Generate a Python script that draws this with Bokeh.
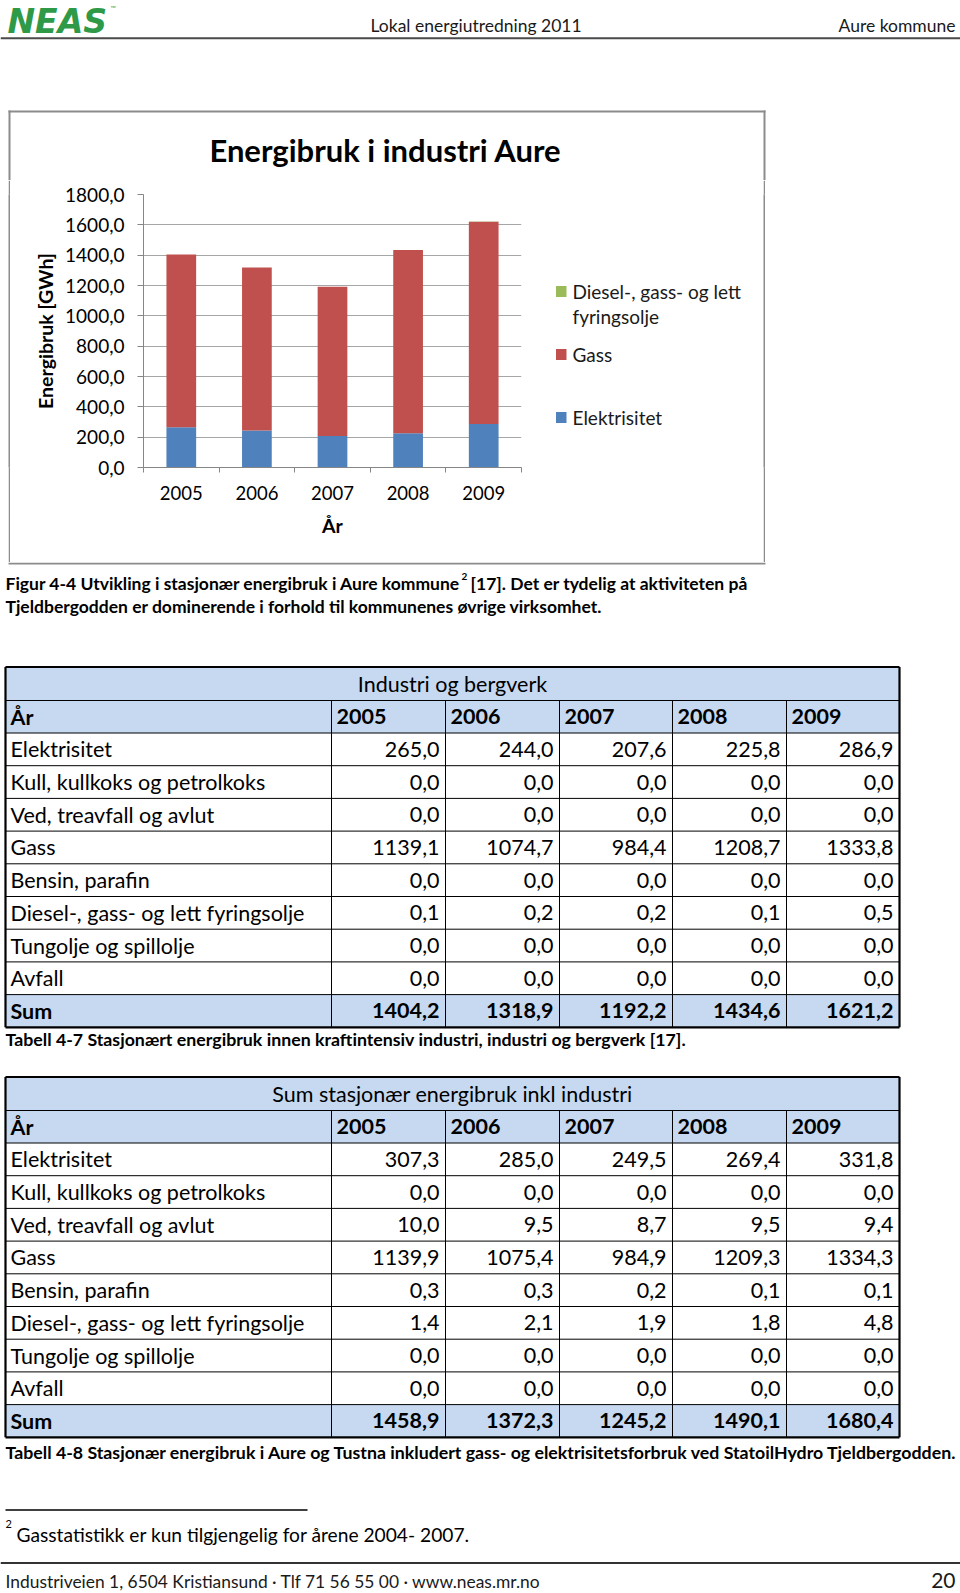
from bokeh.plotting import figure
from bokeh.models import Range1d, FixedTicker, ColumnDataSource, Spacer
from bokeh.layouts import column, row
from bokeh.embed import file_html
from bokeh.resources import INLINE
from bokeh.core.properties import value

FONT = "Lato"

# ---------------- data ----------------
years = ["2005", "2006", "2007", "2008", "2009"]
chart_title = "Energibruk i industri Aure"
y_ticks = [0, 200, 400, 600, 800, 1000, 1200, 1400, 1600, 1800]
elektrisitet = [265.0, 244.0, 207.6, 225.8, 286.9]
gass = [1139.1, 1074.7, 984.4, 1208.7, 1333.8]
diesel = [0.1, 0.2, 0.2, 0.1, 0.5]
series_names = ["Elektrisitet", "Gass", "Diesel-, gass- og lett fyringsolje"]
series_colors = ["#4F81BD", "#C0504D", "#9BBB59"]

row_labels = ["Elektrisitet", "Kull, kullkoks og petrolkoks", "Ved, treavfall og avlut", "Gass",
              "Bensin, parafin", "Diesel-, gass- og lett fyringsolje", "Tungolje og spillolje", "Avfall"]

t1_title = "Industri og bergverk"
t1_values = [
    [265.0, 244.0, 207.6, 225.8, 286.9],
    [0.0, 0.0, 0.0, 0.0, 0.0],
    [0.0, 0.0, 0.0, 0.0, 0.0],
    [1139.1, 1074.7, 984.4, 1208.7, 1333.8],
    [0.0, 0.0, 0.0, 0.0, 0.0],
    [0.1, 0.2, 0.2, 0.1, 0.5],
    [0.0, 0.0, 0.0, 0.0, 0.0],
    [0.0, 0.0, 0.0, 0.0, 0.0],
]
t1_sum = [1404.2, 1318.9, 1192.2, 1434.6, 1621.2]

t2_title = "Sum stasjonær energibruk inkl industri"
t2_values = [
    [307.3, 285.0, 249.5, 269.4, 331.8],
    [0.0, 0.0, 0.0, 0.0, 0.0],
    [10.0, 9.5, 8.7, 9.5, 9.4],
    [1139.9, 1075.4, 984.9, 1209.3, 1334.3],
    [0.3, 0.3, 0.2, 0.1, 0.1],
    [1.4, 2.1, 1.9, 1.8, 4.8],
    [0.0, 0.0, 0.0, 0.0, 0.0],
    [0.0, 0.0, 0.0, 0.0, 0.0],
]
t2_sum = [1458.9, 1372.3, 1245.2, 1490.1, 1680.4]

header_left = "Lokal energiutredning 2011"
header_right = "Aure kommune"
caption1a = "Figur 4-4 Utvikling i stasjonær energibruk i Aure kommune"
caption1b = "[17]. Det er tydelig at aktiviteten på"
caption1c = "Tjeldbergodden er dominerende i forhold til kommunenes øvrige virksomhet."
caption2 = "Tabell 4-7 Stasjonært energibruk innen kraftintensiv industri, industri og bergverk [17]."
caption3 = "Tabell 4-8 Stasjonær energibruk i Aure og Tustna inkludert gass- og elektrisitetsforbruk ved StatoilHydro Tjeldbergodden."
footnote = "Gasstatistikk er kun tilgjengelig for årene 2004- 2007."
footer = "Industriveien 1, 6504 Kristiansund · Tlf 71 56 55 00 · www.neas.mr.no"
page_no = "20"

BOX = "#8c8c8c"


def fmt(v):
    return f"{v:.1f}".replace(".", ",")


def page_fig(x0, x1, y0, y1, **kw):
    f = figure(width=x1 - x0, height=y1 - y0, x_range=Range1d(x0, x1), y_range=Range1d(y1, y0),
               output_backend="svg", toolbar_location=None, min_border=0,
               x_axis_location=None, y_axis_location=None, **kw)
    f.grid.visible = False
    f.outline_line_color = None
    return f


ROW_TOP, ROW_BOT = 180, 562        # window rows of the chart strip
FRAME_TOP, FRAME_BOT = 194, 467    # plot frame of the chart

# ---------------- header + chart top ----------------
top = page_fig(0, 960, 0, ROW_TOP)
top.text(x=[7], y=[1], text=["NEAS"], text_font=value("DejaVu Sans"), text_font_size="33px",
         text_font_style="bold italic", text_color="#2e9a48", text_baseline="top")
top.text(x=[110], y=[7], text=["™"], text_font=value(FONT), text_font_size="7px",
         text_color="#2e9a48", text_baseline="middle")
top.text(x=[370], y=[25], text=[header_left], text_font=value(FONT), text_font_size="17.5px",
         text_color="#1a1a1a", text_baseline="middle")
top.text(x=[955], y=[25], text=[header_right], text_font=value(FONT), text_font_size="17.5px",
         text_color="#1a1a1a", text_baseline="middle", text_align="right")
top.segment(x0=[0], y0=[37.8], x1=[960], y1=[37.8], line_color="#4a4a4a", line_width=2)
top.segment(x0=[8, 9, 764], y0=[111, 110, 110], x1=[765, 9, 764], y1=[111, ROW_TOP + 1, ROW_TOP + 1],
            line_color=BOX, line_width=2)
top.text(x=[385], y=[149], text=[chart_title], text_font=value(FONT), text_font_size="31px",
         text_font_style="bold", text_align="center", text_baseline="middle")

# ---------------- chart row ----------------
H = ROW_BOT - ROW_TOP


def gray_bar():
    g = figure(width=2, height=H, output_backend="svg", toolbar_location=None, min_border=0,
               x_axis_location=None, y_axis_location=None,
               border_fill_color=BOX, background_fill_color=BOX)
    g.grid.visible = False
    g.outline_line_color = None
    return g


p = figure(width=520, height=H, x_range=Range1d(0, len(years)), y_range=Range1d(0, 1800),
           output_backend="svg", toolbar_location=None,
           min_border_left=133, min_border_right=9,
           min_border_top=FRAME_TOP - ROW_TOP, min_border_bottom=ROW_BOT - FRAME_BOT)
p.outline_line_color = None

src = ColumnDataSource(dict(x=[i + 0.5 for i in range(len(years))],
                            el=elektrisitet, ga=gass, di=diesel))
rs = p.vbar_stack(["el", "ga", "di"], x="x", width=0.393, source=src,
                  fill_color=series_colors, line_color=None)

p.yaxis.ticker = FixedTicker(ticks=y_ticks)
p.yaxis.major_label_overrides = {t: fmt(t) for t in y_ticks}
p.xaxis.ticker = FixedTicker(ticks=[i + 0.5 for i in range(len(years))],
                             minor_ticks=list(range(len(years) + 1)))
p.xaxis.major_label_overrides = {i + 0.5: y for i, y in enumerate(years)}

for ax in (p.xaxis[0], p.yaxis[0]):
    ax.axis_line_color = "#868686"
    ax.major_tick_line_color = "#868686"
    ax.minor_tick_line_color = "#868686"
    ax.major_label_text_font = FONT
    ax.major_label_text_font_size = "18.5px"
    ax.major_label_text_color = "#000000"
    ax.axis_label_text_font = FONT
    ax.axis_label_text_font_size = "19.5px"
    ax.axis_label_text_font_style = "bold"
    ax.axis_label_text_color = "#000000"

p.yaxis.major_label_text_font_size = "19px"
p.yaxis.major_tick_out = 6
p.yaxis.major_tick_in = 0
p.yaxis.minor_tick_line_color = None
p.yaxis.major_label_standoff = 13
p.yaxis.axis_label = "Energibruk [GWh]"
p.yaxis.axis_label_standoff = 5

p.xaxis.major_tick_line_color = None
p.xaxis.major_tick_out = 0
p.xaxis.major_tick_in = 0
p.xaxis.minor_tick_out = 5
p.xaxis.minor_tick_in = 0
p.xaxis.major_label_standoff = 13
p.xaxis.axis_label = "År"
p.xaxis.axis_label_standoff = 11

p.xgrid.grid_line_color = None
p.ygrid.grid_line_color = "#a6a6a6"

# legend panel (its frame is the same window band as the chart frame)
right = figure(width=233, height=H, x_range=Range1d(530, 763), y_range=Range1d(FRAME_BOT, FRAME_TOP),
               output_backend="svg", toolbar_location=None,
               min_border_left=0, min_border_right=0,
               min_border_top=FRAME_TOP - ROW_TOP, min_border_bottom=ROW_BOT - FRAME_BOT,
               x_axis_location=None, y_axis_location=None)
right.grid.visible = False
right.outline_line_color = None
leg_names = [series_names[2], series_names[1], series_names[0]]
leg_colors = [series_colors[2], series_colors[1], series_colors[0]]
leg_y = [291, 354, 417]
right.quad(left=[555.5] * 3, right=[566] * 3, top=[y - 5.5 for y in leg_y],
           bottom=[y + 5.5 for y in leg_y], fill_color=leg_colors, line_color=None)
right.text(x=[572, 572, 572, 572], y=[leg_y[0], leg_y[0] + 25, leg_y[1], leg_y[2]],
           text=["Diesel-, gass- og lett", "fyringsolje", leg_names[1], leg_names[2]],
           text_font=value(FONT), text_font_size="19px", text_baseline="middle",
           text_color="#1a1a1a")

chart_row = row(Spacer(width=8, height=H), gray_bar(), p, right, gray_bar(),
                Spacer(width=195, height=H))

# ---------------- lower page ----------------
pg = page_fig(0, 960, ROW_BOT, 1593)
pg.segment(x0=[8], y0=[563], x1=[765], y1=[563], line_color=BOX, line_width=2)

CAP = dict(text_font=value(FONT), text_font_size="17.75px", text_font_style="bold",
           text_baseline="middle", text_color="#000000")
CAP1 = dict(CAP, text_font_size="17.5px")
pg.text(x=[5], y=[583], text=[caption1a], **CAP1)
pg.text(x=[461], y=[576], text=["2"], text_font=value(FONT), text_font_size="10px",
        text_font_style="bold", text_baseline="middle")
pg.text(x=[470], y=[583], text=[caption1b], **CAP1)
pg.text(x=[5], y=[605.5], text=[caption1c], **CAP1)

BLUE = "#c6d9f1"
COL_EDGES = [5, 331, 445, 559, 672, 786, 899]
TITLE_H, YEAR_H, ROW_H = 33.5, 32.5, 32.7
TFS = "21.5px"


def draw_table(top_y, title, values, sums):
    L, R = COL_EDGES[0], COL_EDGES[-1]
    y_t = top_y + TITLE_H
    y_y = y_t + YEAR_H
    n = len(row_labels)
    bounds = [y_y + i * ROW_H for i in range(n + 2)]
    bot = bounds[-1]
    pg.quad(left=[L] * 3, right=[R] * 3, top=[top_y, y_t, bounds[n]],
            bottom=[y_t, y_y, bot], fill_color=BLUE, line_color=None)
    hy = [y_t, y_y] + bounds[1:-1]
    pg.segment(x0=[L] * len(hy), y0=hy, x1=[R] * len(hy), y1=hy, line_color="#000000", line_width=1)
    vx = COL_EDGES[1:-1]
    pg.segment(x0=vx, y0=[y_t] * len(vx), x1=vx, y1=[bot] * len(vx), line_color="#000000", line_width=1)
    pg.segment(x0=[L, L, L, R], y0=[top_y, bot, top_y, top_y], x1=[R, R, L, R], y1=[top_y, bot, bot, bot],
               line_color="#000000", line_width=2.2)
    pg.text(x=[(L + R) / 2], y=[(top_y + y_t) / 2], text=[title], text_font=value(FONT),
            text_font_size=TFS, text_align="center", text_baseline="middle")
    yc = (y_t + y_y) / 2
    pg.text(x=[L + 5] + [e + 5 for e in COL_EDGES[1:-1]], y=[yc] * (len(years) + 1),
            text=["År"] + years, text_font=value(FONT), text_font_size=TFS,
            text_font_style="bold", text_baseline="middle")
    rc = [(bounds[i] + bounds[i + 1]) / 2 for i in range(n + 1)]
    pg.text(x=[L + 5] * n, y=rc[:n], text=row_labels, text_font=value(FONT), text_font_size=TFS,
            text_baseline="middle")
    xs, ys, ts = [], [], []
    for i, vals in enumerate(values):
        for j, v in enumerate(vals):
            xs.append(COL_EDGES[j + 2] - 6)
            ys.append(rc[i])
            ts.append(fmt(v))
    pg.text(x=xs, y=ys, text=ts, text_font=value(FONT), text_font_size=TFS,
            text_align="right", text_baseline="middle")
    pg.text(x=[L + 5], y=[rc[n]], text=["Sum"], text_font=value(FONT), text_font_size=TFS,
            text_font_style="bold", text_baseline="middle")
    pg.text(x=[COL_EDGES[j + 2] - 6 for j in range(len(sums))], y=[rc[n]] * len(sums),
            text=[fmt(s) for s in sums], text_font=value(FONT), text_font_size=TFS,
            text_font_style="bold", text_align="right", text_baseline="middle")


draw_table(666.5, t1_title, t1_values, t1_sum)
pg.text(x=[5], y=[1038], text=[caption2], **CAP)
draw_table(1076.5, t2_title, t2_values, t2_sum)
pg.text(x=[5], y=[1451], text=[caption3], **CAP)

pg.segment(x0=[5], y0=[1509.5], x1=[307], y1=[1509.5], line_color="#000000", line_width=1.5)
pg.text(x=[5], y=[1523], text=["2"], text_font=value(FONT), text_font_size="11px", text_baseline="middle")
pg.text(x=[16], y=[1534], text=[footnote], text_font=value(FONT), text_font_size="19.2px",
        text_baseline="middle")
pg.segment(x0=[0], y0=[1562.5], x1=[960], y1=[1562.5], line_color="#333333", line_width=2)
pg.text(x=[5], y=[1581], text=[footer], text_font=value(FONT), text_font_size="17.4px",
        text_baseline="middle", text_color="#1a1a1a")
pg.text(x=[955], y=[1580], text=[page_no], text_font=value(FONT), text_font_size="21px",
        text_baseline="middle", text_align="right", text_color="#1a1a1a")

layout = column(top, chart_row, pg)
open("out.html", "w").write(file_html(layout, INLINE))
